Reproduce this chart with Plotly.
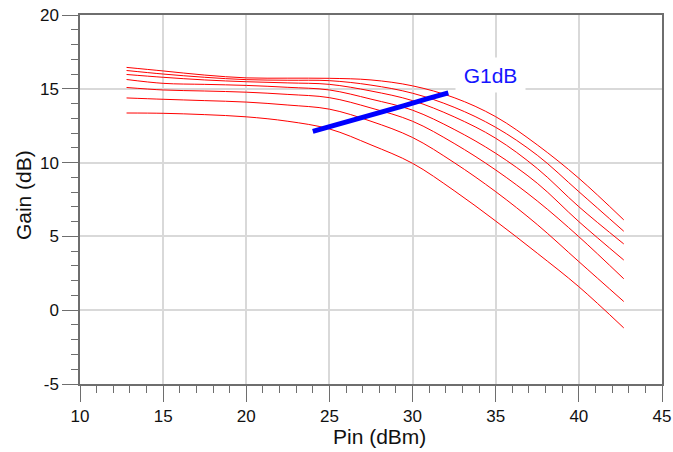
import plotly.graph_objects as go

# Input power grid (dBm)
pin = [12.8, 15, 17.5, 20, 22.5, 25, 27.5, 30, 32.5, 35, 37.5, 40, 42.7]

# Gain curves (dB), top to bottom
gain_1 = [16.45, 16.21, 15.93, 15.74, 15.72, 15.71, 15.60, 15.20, 14.40, 13.11, 11.20, 8.94, 6.12]
gain_2 = [16.24, 16.00, 15.78, 15.62, 15.58, 15.55, 15.25, 14.70, 13.75, 12.39, 10.50, 8.03, 5.35]
gain_3 = [15.97, 15.78, 15.60, 15.48, 15.40, 15.30, 14.85, 14.20, 13.10, 11.65, 9.60, 7.01, 4.49]
gain_4 = [15.63, 15.37, 15.30, 15.23, 15.10, 14.92, 14.30, 13.55, 12.25, 10.63, 8.60, 6.00, 3.40]
gain_5 = [15.09, 14.92, 14.85, 14.77, 14.62, 14.40, 13.70, 12.80, 11.30, 9.50, 7.40, 4.98, 2.13]
gain_6 = [14.38, 14.29, 14.20, 14.10, 13.90, 13.62, 12.80, 11.70, 10.00, 8.03, 5.80, 3.29, 0.59]
gain_7 = [13.36, 13.34, 13.25, 13.10, 12.80, 12.28, 11.20, 9.95, 8.10, 6.04, 3.86, 1.59, -1.20]
gain_curves = [gain_1, gain_2, gain_3, gain_4, gain_5, gain_6, gain_7]

# 1 dB compression points
g1db_pin = [24.0, 25.4, 26.8, 28.1, 29.5, 30.8, 32.15]
g1db_gain = [12.12, 12.55, 13.0, 13.42, 13.86, 14.3, 14.72]

x_ticks = [10, 15, 20, 25, 30, 35, 40, 45]
x_labels = ["10", "15", "20", "25", "30", "35", "40", "45"]
y_ticks = [-5, 0, 5, 10, 15, 20]
y_labels = ["-5", "0", "5", "10", "15", "20"]

FONT = "Liberation Sans, Arial, sans-serif"

fig = go.Figure()
for g in gain_curves:
    fig.add_trace(go.Scatter(x=pin, y=g, mode="lines",
                             line=dict(color="#ff0000", width=1, shape="spline", smoothing=1.0),
                             showlegend=False, hoverinfo="skip"))

fig.add_trace(go.Scatter(x=g1db_pin, y=g1db_gain, mode="lines",
                         line=dict(color="#0000ff", width=5),
                         showlegend=False))

axis_common = dict(
    showline=True, linecolor="#6e6e6e", linewidth=1.5, mirror=True,
    ticks="outside", ticklen=16, tickwidth=1.2, tickcolor="#6e6e6e",
    showgrid=True, gridcolor="#d9d9d9", gridwidth=1.5, zeroline=False,
    automargin=False, ticklabeloverflow="allow",
    tickfont=dict(family=FONT, size=17, color="#111111"),
    minor=dict(dtick=1, ticks="outside", ticklen=7, tickwidth=1.2,
               tickcolor="#6e6e6e", showgrid=False),
)

fig.update_xaxes(range=[10, 45], tickvals=x_ticks, ticktext=x_labels, **axis_common)
fig.update_yaxes(range=[-5, 20], tickvals=y_ticks, ticktext=y_labels, **axis_common)

fig.add_annotation(x=34.68, y=15.93, xref="x", yref="y", text="G1dB",
                   showarrow=False, bgcolor="white", width=69, height=34,
                   borderpad=0, font=dict(family=FONT, size=21, color="#1515ff"))

fig.add_annotation(x=0.5146, y=-0.1436, xref="paper", yref="paper",
                   text="Pin (dBm)", showarrow=False, xanchor="center", yanchor="middle",
                   font=dict(family=FONT, size=21, color="#111111"))
fig.add_annotation(x=-0.0979, y=0.512, xref="paper", yref="paper",
                   text="Gain (dB)", showarrow=False, textangle=-90,
                   xanchor="center", yanchor="middle",
                   font=dict(family=FONT, size=21, color="#111111"))

fig.update_layout(
    width=673, height=452,
    margin=dict(l=80, r=11, t=15, b=68, autoexpand=False),
    paper_bgcolor="white", plot_bgcolor="white",
    showlegend=False,
)

# remove the page's default body margin / scrollbars so the figure fills the window
fig.write_html("out.html",
               config={"displayModeBar": False},
               post_script="document.body.style.margin='0';document.body.style.overflow='hidden';")
